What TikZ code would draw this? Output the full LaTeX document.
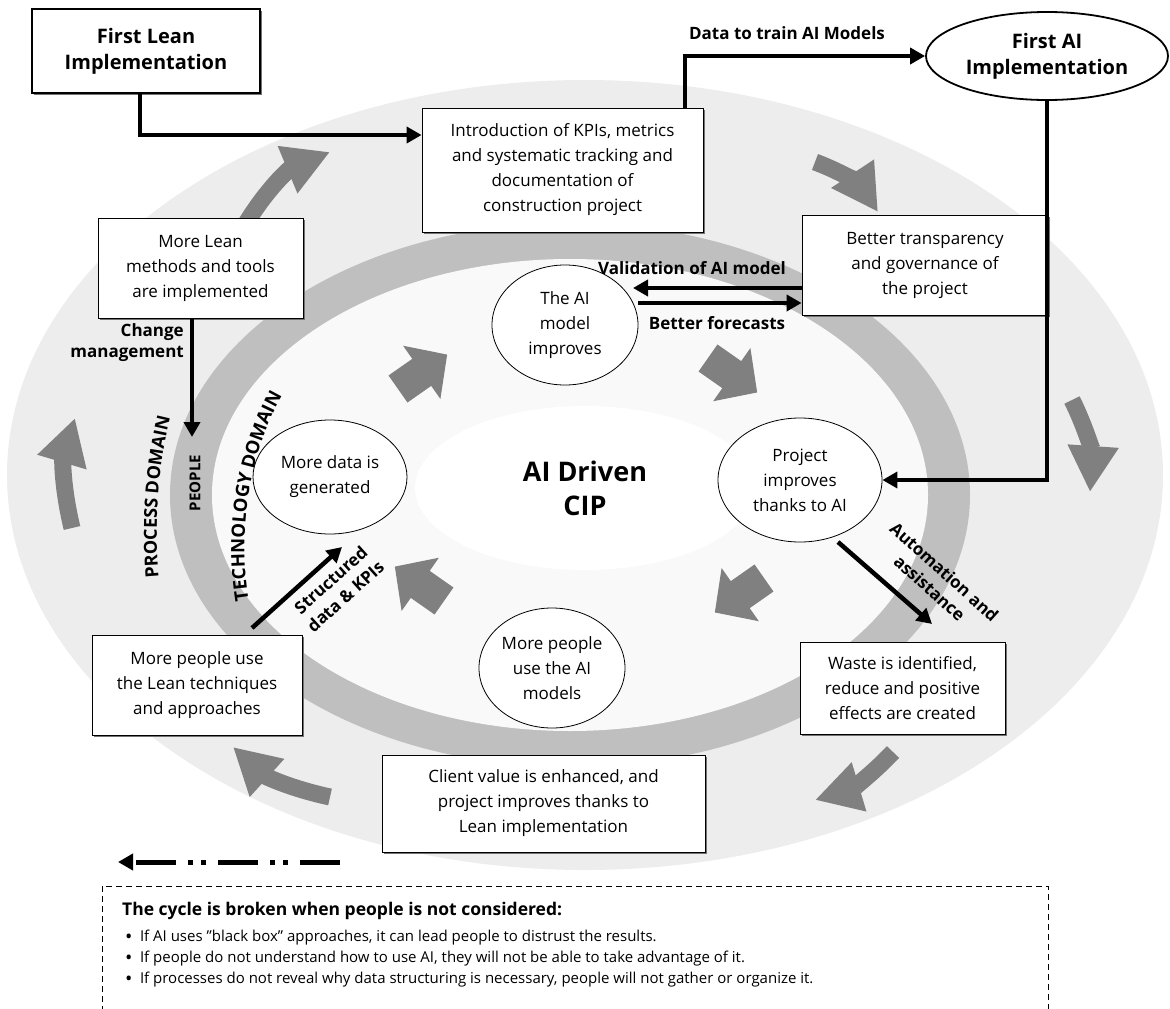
\documentclass[tikz,border=0pt]{standalone}
\usepackage{fontspec}
\usepackage{graphicx}
\setmainfont{Open Sans}
\usetikzlibrary{arrows.meta,shapes.geometric,shadows,decorations.text}
\definecolor{outerg}{HTML}{EDEDED}
\definecolor{ringg}{HTML}{BFBFBF}
\definecolor{innerg}{HTML}{F9F9F9}
\definecolor{arrg}{HTML}{808080}
\newcommand{\bigbul}{\raisebox{-0.2ex}{\scalebox{1.3}{\textbullet}}}
\begin{document}
\begin{tikzpicture}[x=1pt,y=-1pt,
  txt/.style={font=\fontsize{17}{25}\selectfont, align=center},
  box/.style={draw=black, line width=0.8pt, fill=white, txt, inner sep=0pt,
    drop shadow={shadow xshift=1.5pt,shadow yshift=-1.5pt,fill=black!55,opacity=1}},
  oval/.style={ellipse, draw=black, line width=0.8pt, fill=white, txt, inner sep=0pt},
  lbl/.style={font=\bfseries\fontsize{17}{21}\selectfont, align=center, inner sep=0pt},
  rlbl/.style={font=\bfseries\fontsize{17}{22}\selectfont, align=center, inner sep=0pt},
  conn/.style={line width=4.5pt, -{Triangle[length=15pt,width=16pt]}},
  bigarr/.style={draw=arrg, line width=17pt, -{Triangle[length=46pt,width=48pt]}},
  blk/.style={fill=arrg, draw=none}
]
\useasboundingbox (0,0) rectangle (1170,1009);
% background rings
\fill[outerg] (585,475) ellipse [x radius=578pt, y radius=395pt];
\fill[ringg] (570,495) ellipse [x radius=400pt, y radius=272pt];
\fill[innerg] (570,495) ellipse [x radius=358pt, y radius=236pt];
% outer curved arrows
\draw[bigarr] (245,225) to[bend left=18] (330,152);
\draw[bigarr] (815,162) to[bend left=18] (878,212);
\draw[bigarr] (1072,400) to[bend left=15] (1090,492);
\draw[bigarr] (893,752) to[bend left=15] (815,800);
\draw[bigarr] (330,797) to[bend left=15] (233,747);
\draw[bigarr] (72,528) to[bend left=15] (75,418);
% inner block arrows
\foreach \px/\py/\ang in {398/389/35, 708/358/-35, 764/578/-145, 444/601/145}{
  \fill[blk, shift={(\px,\py)}, rotate=\ang] (0,-16.5) -- (29,-16.5) -- (29,-32.5) -- (60,0) -- (29,32.5) -- (29,16.5) -- (0,16.5) -- cycle;
}
% centre
\node[ellipse, fill=white, minimum width=340pt, minimum height=164pt, inner sep=0pt,
  font=\bfseries\fontsize{27}{34}\selectfont, align=center] (cip) at (585,488) {AI Driven\\CIP};
% nodes
\node[box, line width=1.8pt, minimum width=228pt, minimum height=84pt,
  font=\bfseries\fontsize{20}{26}\selectfont] (lean) at (146,51) {First Lean\\Implementation};
\node[box, minimum width=281pt, minimum height=124pt] (intro) at (562.5,170)
  {Introduction of KPIs, metrics\\and systematic tracking and\\documentation of\\construction project};
\node[oval, line width=1.8pt, minimum width=242pt, minimum height=88pt,
  font=\bfseries\fontsize{20}{26}\selectfont] (ai) at (1047,56) {First AI\\Implementation};
\node[box, minimum width=205pt, minimum height=100pt] (morelean) at (200.5,268)
  {More Lean\\methods and tools\\are implemented};
\node[box, minimum width=246pt, minimum height=100pt] (better) at (925,265)
  {Better transparency\\and governance of\\the project};
\node[oval, minimum width=146pt, minimum height=120pt] (aimodel) at (565,325) {The AI\\model\\improves};
\node[oval, minimum width=164pt, minimum height=124pt] (project) at (800,480) {Project\\improves\\thanks to AI};
\node[oval, minimum width=154pt, minimum height=114pt] (moredata) at (330,477) {More data is\\generated};
\node[oval, minimum width=146pt, minimum height=120pt] (morepeople) at (552,668) {More people\\use the AI\\models};
\node[box, minimum width=210pt, minimum height=100pt] (peoplelean) at (197,685)
  {More people use\\the Lean techniques\\and approaches};
\node[box, minimum width=205pt, minimum height=92pt] (waste) at (902.5,688)
  {Waste is identified,\\reduce and positive\\effects are created};
\node[box, minimum width=323pt, minimum height=97pt] (client) at (543.5,803.5)
  {Client value is enhanced, and\\project improves thanks to\\Lean implementation};
% labels
\node[lbl, anchor=south] (datalbl) at (787,40) {Data to train AI Models};
\node[lbl, anchor=east, align=right] (cmlbl) at (184,343) {Change\\management};
\node[lbl] (vallbl) at (692,268) {Validation of AI model};
\node[lbl] (fclbl) at (717,323) {Better forecasts};
\node[rlbl, rotate=-42] (autolbl) at (937,580) {Automation and\\assistance};
\node[rlbl, rotate=42] (stlbl) at (338,588) {Structured\\data \& KPIs};
\node[lbl, rotate=90, font=\bfseries\fontsize{15}{18}\selectfont] (peoplelbl) at (195,483) {PEOPLE};
\path[decorate, decoration={text along path, text align=center,
  text={|\bfseries\fontsize{18}{18}\selectfont|PROCESS DOMAIN}}]
  (162,604) .. controls (152,540) and (156,455) .. (178,392);
\path[decorate, decoration={text along path, text align=center,
  text={|\bfseries\fontsize{18.5}{18.5}\selectfont|TECHNOLOGY DOMAIN}}]
  (252,618) .. controls (236,548) and (244,450) .. (292,380);
% connectors
\coordinate (leanTurn) at (140,135);
\draw[conn] (lean.south -| leanTurn) |- (intro.west |- leanTurn);
\coordinate (dataX) at (685,0);
\draw[conn] (intro.north -| dataX) |- (ai.west);
\draw[conn] (ai.south) |- (project.east);
\coordinate (cmEnd) at (192,437);
\draw[conn] (morelean.south -| cmEnd) -- (cmEnd);
\coordinate (valtip) at (633,288);
\draw[conn] (better.west |- valtip) -- (valtip);
\coordinate (fcstart) at (638,303);
\draw[conn] (fcstart) -- (better.west |- fcstart);
\coordinate (autoS) at (838,542);
\coordinate (autoE) at (932,624);
\draw[conn] (autoS) -- (autoE);
\coordinate (stS) at (252,628);
\coordinate (stE) at (342,547);
\draw[conn] (stS) -- (stE);
% broken cycle arrow
\coordinate (brkS) at (340,862);
\coordinate (brkE) at (118,862);
\draw[line width=5pt, dash pattern=on 40pt off 12pt on 5pt off 8pt on 5pt off 12pt,
  -{Triangle[length=15pt,width=16pt]}] (brkS) -- (brkE);
% note box
\draw[line width=1pt, dash pattern=on 6pt off 4pt] (102,1012) -- (102,886) -- (1048,886) -- (1048,1012);
\node[anchor=north west, inner sep=0pt, font=\bfseries\fontsize{17.5}{22}\selectfont] (ttl) at (122,902)
  {The cycle is broken when people is not considered:};
\node[anchor=north west, inner sep=0pt, align=left, font=\fontsize{15}{21}\selectfont] (bul) at (125,930)
  {\bigbul\enspace If AI uses "black box" approaches, it can lead people to distrust the results.\\
   \bigbul\enspace If people do not understand how to use AI, they will not be able to take advantage of it.\\
   \bigbul\enspace If processes do not reveal why data structuring is necessary, people will not gather or organize it.};
\end{tikzpicture}
\end{document}
